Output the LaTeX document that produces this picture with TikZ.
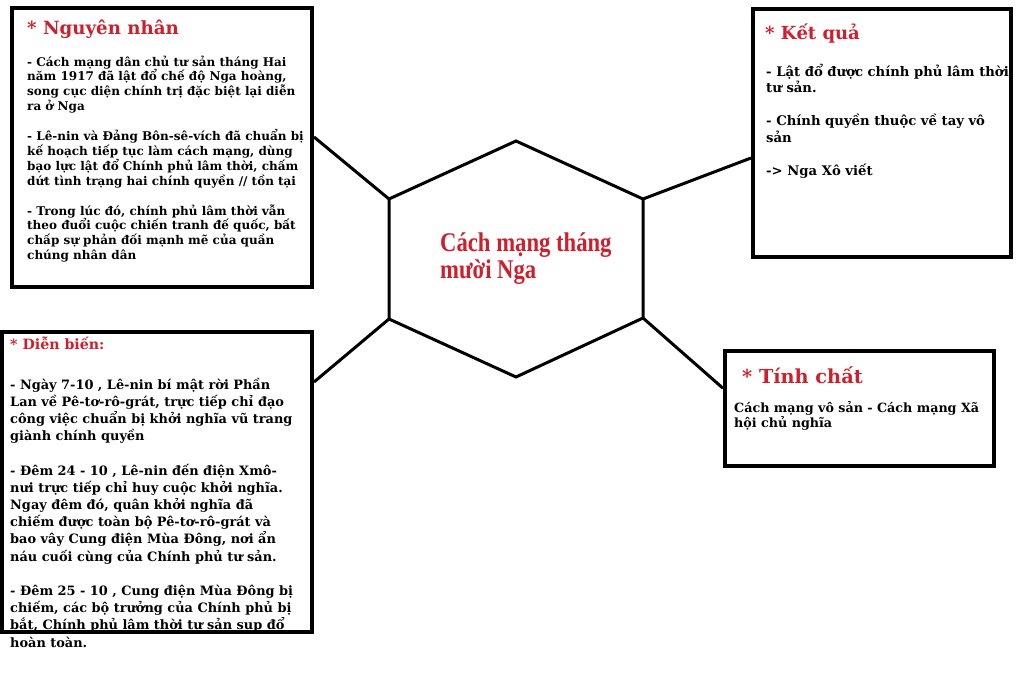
\documentclass[tikz,border=0pt]{standalone}
\usepackage{fontspec}
\setmainfont{DejaVu Serif}
\newfontfamily\titlefont[FakeStretch=0.84]{Liberation Serif}
\definecolor{headred}{RGB}{205,32,44}
\newcommand{\boxtext}[3]{\parbox[t]{330pt}{\fontsize{#1}{#2}\selectfont\raggedright #3}}
\tikzset{
  box/.style={draw, line width=4pt, rectangle, inner sep=0pt},
  link/.style={line width=3pt},
  head/.style={anchor=base west, inner sep=0pt, text=headred, font=\bfseries},
  body/.style={anchor=base west, inner sep=0pt, font=\bfseries}
}
\begin{document}
\begin{tikzpicture}[x=1pt,y=-1pt]
\useasboundingbox[fill=white] (0,0) rectangle (1024,680);
% hexagon
\coordinate (hT) at (516,141); \coordinate (hUR) at (643,199); \coordinate (hLR) at (643,318);
\coordinate (hB) at (516,377); \coordinate (hLL) at (389,319); \coordinate (hUL) at (389,199);
\draw[link, line join=miter] (hT) -- (hUR) -- (hLR) -- (hB) -- (hLL) -- (hUL) -- cycle;
\node[anchor=base west, inner sep=0pt, text=headred, align=left, font=\titlefont\bfseries\fontsize{27}{27}\selectfont] (title) at (440,278) {Cách mạng tháng\\mười Nga};
% texts
\node[head, font=\bfseries\fontsize{18.2}{18}\selectfont] (causehead) at (27,34) {* Nguyên nhân};
\node[body] (causetext) at (27,66) {\boxtext{12}{14.9}{- Cách mạng dân chủ tư sản tháng Hai\\ năm 1917 đã lật đổ chế độ Nga hoàng,\\ song cục diện chính trị đặc biệt lại diễn\\ ra ở Nga\\[\baselineskip]
- Lê-nin và Đảng Bôn-sê-vích đã chuẩn bị\\ kế hoạch tiếp tục làm cách mạng, dùng\\ bạo lực lật đổ Chính phủ lâm thời, chấm\\ dứt tình trạng hai chính quyền // tồn tại\\[\baselineskip]
- Trong lúc đó, chính phủ lâm thời vẫn\\ theo đuổi cuộc chiến tranh đế quốc, bất\\ chấp sự phản đối mạnh mẽ của quần\\ chúng nhân dân}};
\node[head, font=\bfseries\fontsize{18}{18}\selectfont] (resulthead) at (765,39) {* Kết quả};
\node[body] (resulttext) at (766,76) {\boxtext{13.2}{16.5}{- Lật đổ được chính phủ lâm thời\\ tư sản.\\[\baselineskip]
- Chính quyền thuộc về tay vô\\ sản\\[\baselineskip]
-> Nga Xô viết}};
\node[head, font=\bfseries\fontsize{14.2}{14}\selectfont] (coursehead) at (10,349) {* Diễn biến:};
\node[body] (coursetext) at (10,389) {\boxtext{12.9}{17.2}{- Ngày 7-10 , Lê-nin bí mật rời Phần\\ Lan về Pê-tơ-rô-grát, trực tiếp chỉ đạo\\ công việc chuẩn bị khởi nghĩa vũ trang\\ giành chính quyền\\[\baselineskip]
- Đêm 24 - 10 , Lê-nin đến điện Xmô-\\ nưi trực tiếp chỉ huy cuộc khởi nghĩa.\\ Ngay đêm đó, quân khởi nghĩa đã\\ chiếm được toàn bộ Pê-tơ-rô-grát và\\ bao vây Cung điện Mùa Đông, nơi ẩn\\ náu cuối cùng của Chính phủ tư sản.\\[\baselineskip]
- Đêm 25 - 10 , Cung điện Mùa Đông bị\\ chiếm, các bộ trưởng của Chính phủ bị\\ bắt, Chính phủ lâm thời tư sản sụp đổ\\ hoàn toàn.}};
\node[head, font=\bfseries\fontsize{19.3}{19}\selectfont] (naturehead) at (742,383) {* Tính chất};
\node[body] (naturetext) at (734,412) {\boxtext{12.7}{15}{Cách mạng vô sản - Cách mạng Xã\\ hội chủ nghĩa}};
% boxes
\node[box, minimum width=300pt, minimum height=279pt] (cause) at (162,147.5) {};
\node[box, minimum width=258pt, minimum height=248pt] (result) at (882,132.5) {};
\node[box, minimum width=310pt, minimum height=300pt] (course) at (157,481.5) {};
\node[box, minimum width=268.5pt, minimum height=114.5pt] (nature) at (859.25,408.25) {};
% links
\draw[link] (hUL) -- ([yshift=10.5pt]cause.east);
\draw[link] (hLL) -- ([yshift=99.5pt]course.east);
\draw[link] (hUR) -- ([yshift=-25.5pt]result.west);
\draw[link] (hLR) -- ([yshift=20pt]nature.west);
\end{tikzpicture}
\end{document}
